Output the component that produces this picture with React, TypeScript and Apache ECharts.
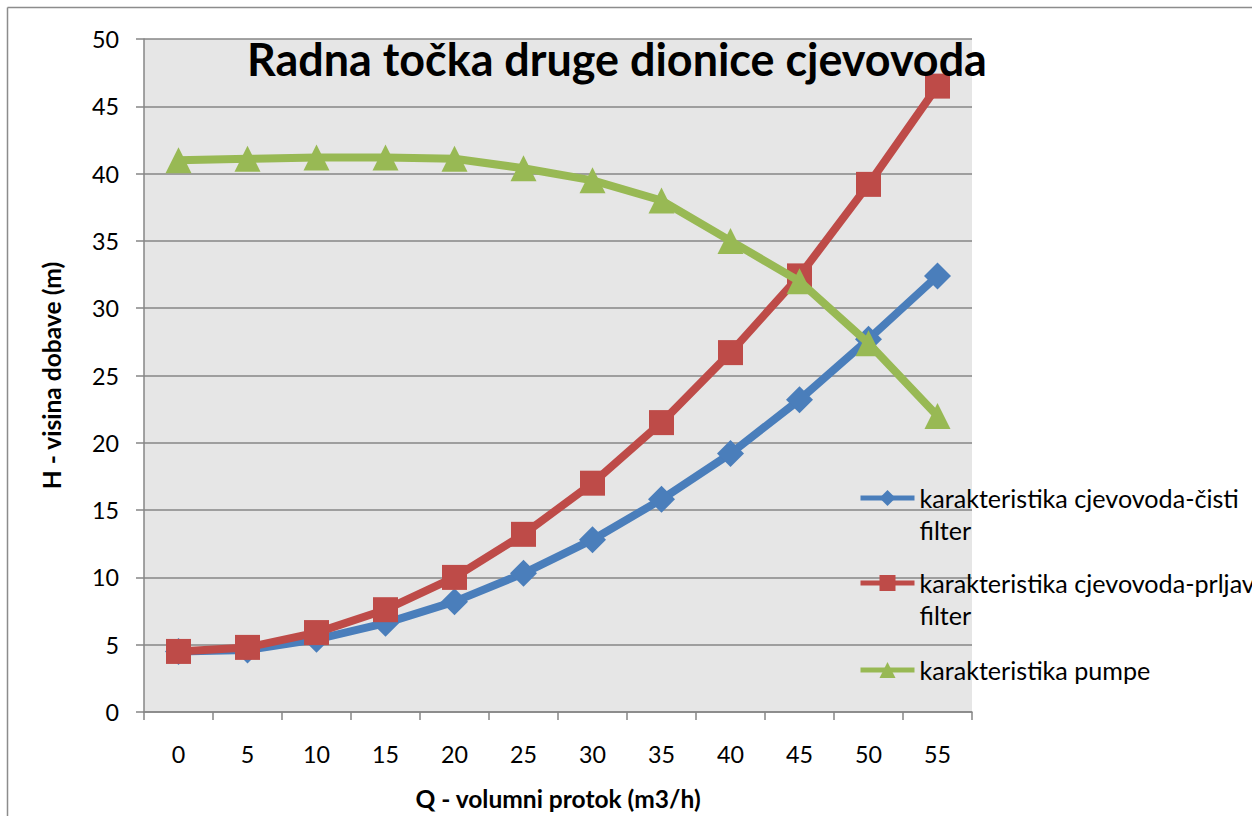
import React, { useEffect, useRef } from "react";
import * as echarts from "echarts";

const categories = ["0", "5", "10", "15", "20", "25", "30", "35", "40", "45", "50", "55"];
const cleanFilter = [4.5, 4.6, 5.4, 6.6, 8.2, 10.3, 12.8, 15.8, 19.2, 23.2, 27.7, 32.4];
const dirtyFilter = [4.5, 4.8, 5.9, 7.6, 10.0, 13.2, 17.0, 21.5, 26.7, 32.4, 39.2, 46.5];
const pump = [41.0, 41.1, 41.2, 41.2, 41.1, 40.4, 39.5, 38.0, 35.0, 32.0, 27.4, 22.0];

const seriesNames = [
  "karakteristika cjevovoda-čisti filter",
  "karakteristika cjevovoda-prljavi filter",
  "karakteristika pumpe",
];
const legendLines = [
  ["karakteristika cjevovoda-čisti", "filter"],
  ["karakteristika cjevovoda-prljavi", "filter"],
  ["karakteristika pumpe"],
];
const titleText = "Radna točka druge dionice cjevovoda";
const xName = "Q - volumni protok (m3/h)";
const yName = "H - visina dobave (m)";

const FONT = "Lato";

function fit(text: string, weight: string, target: number, fallback: number) {
  try {
    const ctx = document.createElement("canvas").getContext("2d");
    if (!ctx) return fallback;
    ctx.font = `${weight} 100px ${FONT}`;
    const w = ctx.measureText(text).width;
    if (!w) return fallback;
    return (100 * target) / w;
  } catch (e) {
    return fallback;
  }
}

export default function App() {
  const ref = useRef<HTMLDivElement>(null);
  useEffect(() => {
    if (!ref.current) return;
    const chart = echarts.init(ref.current, null, { renderer: "svg" });
    const legendSize = fit("karakteristika pumpe", "normal", 231, 25);
    const titleSize = fit(titleText, "bold", 740, 45);
    const xNameSize = fit(xName, "bold", 286, 21);
    const yNameSize = fit(yName, "bold", 228, 21);
    const tickSize = fit("50", "normal", 27, 23);

    const colors = ["#4A7EBB", "#BE4B48", "#98B954"];
    const symbols = ["diamond", "rect", "triangle"];
    const symbolSizes = [27, 25, 26];
    const values = [cleanFilter, dirtyFilter, pump];
    const legendIconY = [498, 583, 670];
    const lh = 32;
    const legends = seriesNames.map((name, i) => {
      const lines = legendLines[i];
      const label = lines.length > 1 ? ["", ...lines].join("\n") : lines[0];
      const nLines = lines.length > 1 ? 3 : 1;
      return {
        orient: "vertical",
        left: 858,
        top: legendIconY[i] - (nLines * lh) / 2,
        padding: 0,
        itemWidth: 54,
        itemHeight: 20,
        itemGap: 0,
        selectedMode: false,
        data: [name],
        formatter: () => label,
        lineStyle: { width: 5 },
        textStyle: {
          fontFamily: FONT,
          fontSize: legendSize,
          color: "#000",
          lineHeight: lh,
        },
      };
    });
    chart.setOption({
      animation: false,
      backgroundColor: "#fff",
      title: {
        text: titleText,
        left: 247,
        top: 60 - titleSize * 0.52,
        padding: 0,
        textStyle: { fontFamily: FONT, fontWeight: "bold", fontSize: titleSize, color: "#000" },
      },
      graphic: [
        { type: "line", shape: { x1: 7.5, y1: 7.5, x2: 1252, y2: 7.5 }, style: { stroke: "#8c8c8c", lineWidth: 1.5 } },
        { type: "line", shape: { x1: 7.5, y1: 7.5, x2: 7.5, y2: 816 }, style: { stroke: "#8c8c8c", lineWidth: 1.5 } },
      ],
      legend: legends,
      grid: {
        left: 144,
        top: 39,
        right: 1252 - 972,
        bottom: 816 - 717,
        show: true,
        backgroundColor: "#E6E6E6",
        borderWidth: 0,
      },
      xAxis: {
        type: "category",
        data: categories,
        boundaryGap: true,
        name: xName,
        nameLocation: "middle",
        nameGap: 74,
        nameTextStyle: { fontFamily: FONT, fontWeight: "bold", fontSize: xNameSize, color: "#000" },
        axisLine: { lineStyle: { color: "#868686", width: 1.5 } },
        axisTick: { show: true, length: 8, alignWithLabel: false, lineStyle: { color: "#868686", width: 1.5 } },
        axisLabel: { fontFamily: FONT, fontSize: tickSize, color: "#000", margin: 30 },
        splitLine: { show: false },
      },
      yAxis: {
        type: "value",
        min: 0,
        max: 50,
        interval: 5,
        name: yName,
        nameLocation: "middle",
        nameGap: 80,
        nameTextStyle: { fontFamily: FONT, fontWeight: "bold", fontSize: yNameSize, color: "#000" },
        axisLine: { show: true, lineStyle: { color: "#868686", width: 1.5 } },
        axisTick: { show: true, length: 8, lineStyle: { color: "#868686", width: 1.5 } },
        axisLabel: { fontFamily: FONT, fontSize: tickSize, color: "#000", margin: 25 },
        splitLine: { show: true, lineStyle: { color: "#868686", width: 1.5 } },
      },
      series: seriesNames.map((name, i) => ({
        name,
        type: "line",
        data: values[i],
        symbol: symbols[i],
        symbolSize: symbolSizes[i],
        showAllSymbol: true,
        itemStyle: { color: colors[i] },
        lineStyle: { color: colors[i], width: 8 },
        z: 2 + i,
      })),
    });
    return () => chart.dispose();
  }, []);
  return (
    <div
      ref={ref}
      style={{ position: "absolute", left: 0, top: 0, width: 1252, height: 816 }}
    />
  );
}
